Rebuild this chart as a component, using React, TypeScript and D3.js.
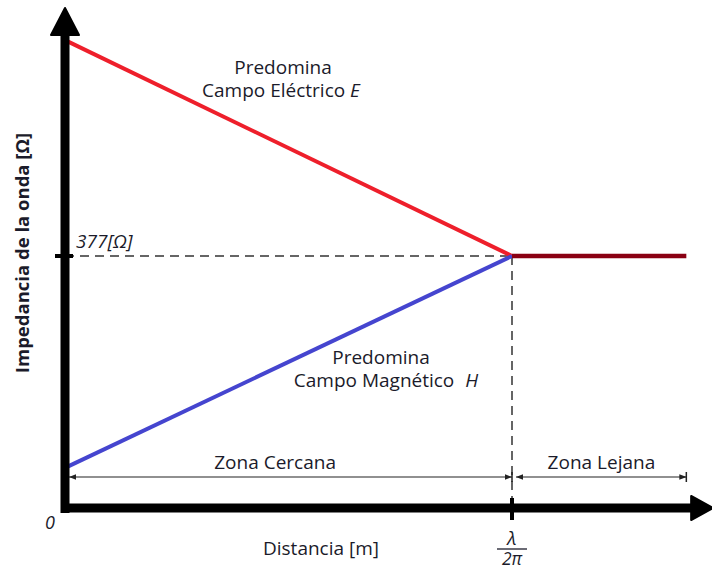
import React from "react";
import * as d3 from "d3";

// Distance in units of λ/2π, impedance in Ω
const eFieldX = [0, 1];
const eFieldY = [700, 377];
const hFieldX = [0, 1];
const hFieldY = [60, 377];
const farX = [1, 1.39];
const farY = [377, 377];
const zoneLabels = ["Zona Cercana", "Zona Lejana"];
const zoneBounds = [0, 1, 1.39];
const zoneLabelX = [0.47, 1.2];
const refImpedance = 377;

const W = 712, H = 569;
const x = d3.scaleLinear().domain([0, 1]).range([65, 512]);
const y = d3.scaleLinear().domain([0, 377]).range([508, 256]);

export default function App() {
  const line = d3.line<[number, number]>().x(d => x(d[0])).y(d => y(d[1]));
  const toPts = (xs: number[], ys: number[]) => xs.map((v, i) => [v, ys[i]] as [number, number]);
  const font = "'Open Sans', sans-serif";
  const txt = "#1b1b2a";
  const fs = 19;
  const zoneY = 477;
  const x0 = x(0), y0 = y(0), yTop = y(748), xEnd = x(1.45);
  return (
    <svg width={W} height={H} style={{ position: "absolute", left: 0, top: 0, background: "#fff" }} fontFamily={font}>
      <defs>
        <marker id="ar" viewBox="0 0 10 10" refX="10" refY="5" markerWidth="7" markerHeight="7" orient="auto-start-reverse" markerUnits="userSpaceOnUse">
          <path d="M0,1 L10,5 L0,9 Z" fill="#222" />
        </marker>
      </defs>
      {/* dashed reference lines */}
      <line x1={x0} x2={x(1)} y1={y(refImpedance)} y2={y(refImpedance)} stroke="#333" strokeWidth={1.5} strokeDasharray="9,6" />
      <line x1={x(1)} x2={x(1)} y1={y(refImpedance)} y2={y0 - 6} stroke="#333" strokeWidth={1.5} strokeDasharray="9,6" />
      {/* lines */}
      <path d={line(toPts(eFieldX, eFieldY)) || ""} stroke="#ee1f2b" strokeWidth={4} fill="none" />
      <path d={line(toPts(hFieldX, hFieldY)) || ""} stroke="#4545cf" strokeWidth={4} fill="none" />
      <path d={line(toPts(farX, farY)) || ""} stroke="#8a0013" strokeWidth={4.5} fill="none" />
      {/* zone dimension arrows */}
      {zoneLabels.map((lab, i) => {
        const a = x(zoneBounds[i]) + 4, b = x(zoneBounds[i + 1]);
        return (
          <g key={lab}>
            <line x1={a} x2={b} y1={zoneY} y2={zoneY} stroke="#222" strokeWidth={1.2} markerStart="url(#ar)" markerEnd="url(#ar)" />
            <line x1={b} x2={b} y1={zoneY - 5} y2={zoneY + 5} stroke="#222" strokeWidth={1.5} />
            <text x={x(zoneLabelX[i])} y={zoneY - 8} textAnchor="middle" fontSize={fs} fill={txt}>{lab}</text>
          </g>
        );
      })}
      {/* axes */}
      <line x1={x0} x2={x0} y1={y0 + 5} y2={yTop + 20} stroke="#000" strokeWidth={9} />
      <path d={`M${x0},${yTop} L${x0 + 14},${yTop + 27} L${x0 - 14},${yTop + 27} Z`} fill="#000" stroke="#000" strokeWidth={2} strokeLinejoin="round" />
      <line x1={x0 - 4} x2={xEnd - 20} y1={y0} y2={y0} stroke="#000" strokeWidth={9} />
      <path d={`M${xEnd},${y0} L${xEnd - 22},${y0 - 12} L${xEnd - 22},${y0 + 12} Z`} fill="#000" stroke="#000" strokeWidth={2} strokeLinejoin="round" />
      {/* ticks */}
      <line x1={x0 - 10} x2={x0 + 8} y1={y(refImpedance)} y2={y(refImpedance)} stroke="#000" strokeWidth={4} />
      <line x1={x(1)} x2={x(1)} y1={y0 - 10} y2={y0 + 12} stroke="#000" strokeWidth={4} />
      {/* labels */}
      <text x={76} y={y(refImpedance) - 8} fontSize={fs} fontStyle="italic" fill={txt}>377[Ω]</text>
      <text x={50} y={529} fontSize={18} fontStyle="italic" fill={txt} textAnchor="middle">0</text>
      <text x={321} y={555} fontSize={fs} fill={txt} textAnchor="middle">Distancia [m]</text>
      <text x={x(1)} y={545} fontSize={19} fontStyle="italic" fill={txt} textAnchor="middle">λ</text>
      <line x1={x(1) - 15} x2={x(1) + 15} y1={549} y2={549} stroke={txt} strokeWidth={1.3} />
      <text x={x(1)} y={565} fontSize={17.5} fontStyle="italic" fill={txt} textAnchor="middle">2π</text>
      <text transform="translate(29,253) rotate(-90)" fontSize={18.5} fontWeight="bold" fill={txt} textAnchor="middle">Impedancia de la onda [Ω]</text>
      <text x={283} y={74} fontSize={fs} fill={txt} textAnchor="middle">Predomina</text>
      <text x={281} y={97} fontSize={fs} fill={txt} textAnchor="middle">Campo Eléctrico <tspan fontStyle="italic">E</tspan></text>
      <text x={381} y={364} fontSize={fs} fill={txt} textAnchor="middle">Predomina</text>
      <text x={386} y={387} fontSize={fs} fill={txt} textAnchor="middle">Campo Magnético <tspan dx={6} fontStyle="italic">H</tspan></text>
    </svg>
  );
}
